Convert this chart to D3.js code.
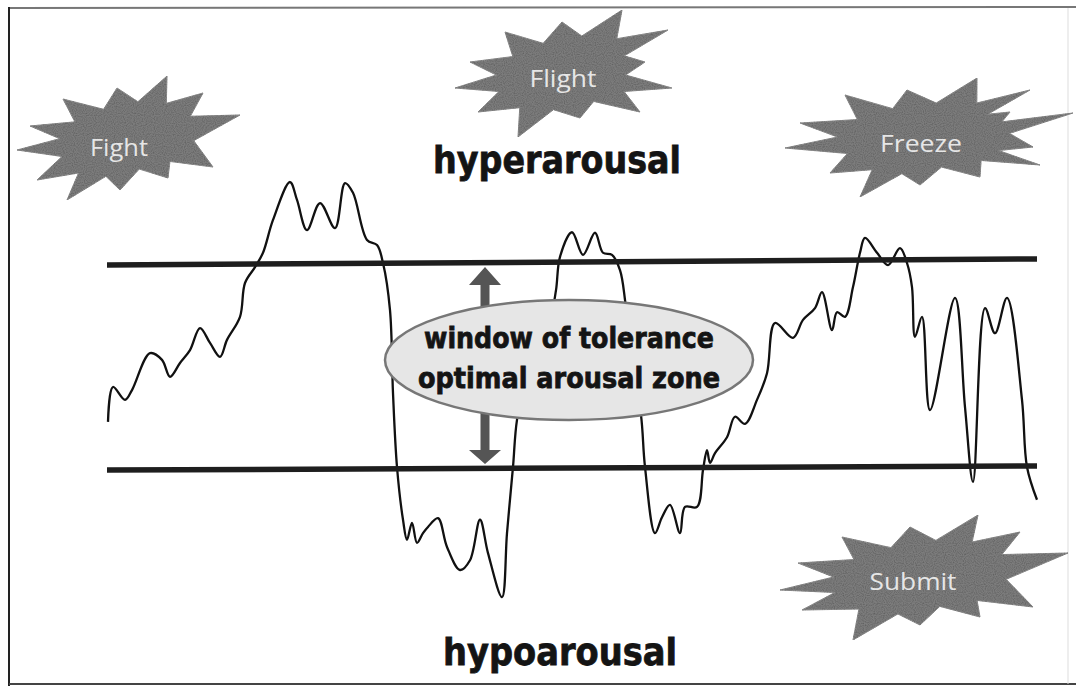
<!DOCTYPE html>
<html><head><meta charset="utf-8">
<script src="https://cdn.jsdelivr.net/npm/d3@7"></script>
<style>html,body{margin:0;padding:0;background:#fff;}svg{display:block;}</style>
</head><body>
<svg id="chart" width="1076" height="686"></svg>
<script>
// ---- data (time units, arousal level 0-100) ----
const times = [1,6,18,25,43,55,63,73,83,93,103,113,120,133,138,148,156,166,183,190,200,213,228,238,246,260,270,276,283,286,290,296,300,305,310,316,321,331,340,353,363,373,381,395,400,406,410,421,443,449,453,465,476,488,496,505,513,518,523,534,538,548,555,563,573,578,590,596,600,603,608,620,628,638,650,660,668,686,696,708,715,725,730,738,746,753,758,770,781,793,800,805,808,815,823,848,858,866,878,888,900,915,920,930];
const arousal = [39.0,45.8,43.3,45.2,52.4,51.1,47.8,50.5,53.0,57.3,54.4,51.7,55.0,59.5,66.1,69.2,72.0,78.4,85.8,82.3,76.4,81.7,76.8,85.6,83.7,74.5,73.5,70.0,60.8,44.6,30.2,19.9,16.0,19.3,15.4,17.3,18.5,20.2,14.6,10.1,12.0,19.9,13.4,4.8,17.3,30.2,39.4,49.1,58.9,64.7,71.2,76.0,71.6,75.9,72.0,71.6,68.6,62.8,53.0,40.3,30.2,17.3,20.4,22.8,17.3,22.4,22.4,29.6,33.5,31.0,32.9,36.0,40.0,38.6,43.3,48.5,58.3,55.4,58.9,61.2,64.3,56.9,60.4,59.5,65.3,72.0,74.9,72.0,69.6,72.9,70.0,65.3,55.6,59.5,41.3,63.2,41.9,27.3,61.2,56.3,63.2,43.3,30.2,23.8];
const upperBound = [69.6, 70.8];   // window of tolerance top (start, end)
const lowerBound = [29.6, 30.4];   // window of tolerance bottom (start, end)
const timeExtent = [0, 930];
const zoneLabels = ["window of tolerance", "optimal arousal zone"];
const stateLabels = ["Fight", "Flight", "Freeze", "Submit"];
const regionLabels = ["hyperarousal", "hypoarousal"];

const svg = d3.select("#chart");
const x = d3.scaleLinear().domain([0, 930]).range([107, 1037]);
const y = d3.scaleLinear().domain([0, 100]).range([621.75, 109.25]);

// frame
svg.append("line").attr("x1",9).attr("y1",8).attr("x2",1076).attr("y2",7).attr("stroke","#777").attr("stroke-width",2);
svg.append("line").attr("x1",9).attr("y1",7).attr("x2",9).attr("y2",686).attr("stroke","#222").attr("stroke-width",2);
svg.append("line").attr("x1",9).attr("y1",684).attr("x2",1076).attr("y2",684).attr("stroke","#444").attr("stroke-width",2);
svg.append("line").attr("x1",1068).attr("y1",8).attr("x2",1068).attr("y2",684).attr("stroke","#ddd").attr("stroke-width",1);

// speckle filter for grey shapes
const defs = svg.append("defs");
const f = defs.append("filter").attr("id","speckle").attr("x","0").attr("y","0").attr("width","100%").attr("height","100%");
f.append("feTurbulence").attr("type","fractalNoise").attr("baseFrequency",0.9).attr("numOctaves",1).attr("seed",3).attr("result","noise");
f.append("feColorMatrix").attr("in","noise").attr("type","matrix")
  .attr("values","0 0 0 0 0  0 0 0 0 0  0 0 0 0 0  0 0 0 0.9 -0.35").attr("result","dots");
f.append("feComposite").attr("in","dots").attr("in2","SourceGraphic").attr("operator","in").attr("result","dotsIn");
f.append("feMerge").selectAll("feMergeNode").data(["SourceGraphic","dotsIn"]).enter().append("feMergeNode").attr("in",d=>d);

// starbursts
const bursts = [
  {c:[130,140], tips:[[17,150],[30,126],[63,99],[117,88],[167,76],[203,93],[240,115],[213,167],[168,178],[120,190],[67,200],[37,180]], label:stateLabels[0], tx:119, ty:156, tl:58},
  {c:[562,75], tips:[[455,88],[470,62],[505,32],[562,22],[622,10],[668,30],[645,62],[672,88],[640,112],[580,118],[518,137],[478,112]], label:stateLabels[1], tx:563, ty:87, tl:67},
  {c:[925,140], tips:[[785,148],[800,123],[845,95],[907,90],[977,78],[1030,90],[1010,112],[1073,113],[1033,147],[1040,165],[980,177],[920,185],[860,197],[830,173]], label:stateLabels[2], tx:921, ty:152, tl:82},
  {c:[920,578], tips:[[780,590],[798,563],[842,537],[910,527],[978,515],[1020,532],[1068,553],[1033,607],[980,617],[920,625],[853,640],[802,610]], label:stateLabels[3], tx:913, ty:590, tl:87}
];
const polyLine = d3.line().curve(d3.curveLinearClosed);
bursts.forEach(b => {
  const pts = [];
  const n = b.tips.length;
  for (let i = 0; i < n; i++) {
    const a = b.tips[i], c2 = b.tips[(i+1)%n];
    pts.push(a);
    const mx = (a[0]+c2[0])/2, my = (a[1]+c2[1])/2;
    pts.push([b.c[0] + (mx-b.c[0])*0.66, b.c[1] + (my-b.c[1])*0.66]);
  }
  svg.append("path").attr("d", polyLine(pts)).attr("fill","#7c7c7c").attr("stroke","#8a8a8a").attr("stroke-width",1).attr("filter","url(#speckle)");
  svg.append("text").attr("x",b.tx).attr("y",b.ty).attr("text-anchor","middle")
    .attr("font-family","'Open Sans', 'Noto Sans', sans-serif").attr("font-size",23)
    .attr("fill","#e6e6e6").attr("textLength",b.tl).attr("lengthAdjust","spacingAndGlyphs").text(b.label);
});

// region labels
const boldText = (sel) => sel.attr("font-family","'DejaVu Sans', sans-serif").attr("font-weight","bold")
  .attr("fill","#141414").attr("stroke","#141414").attr("stroke-width",0.8).attr("lengthAdjust","spacingAndGlyphs").attr("text-anchor","middle");
svg.append("text").attr("x",557).attr("y",173).attr("font-size",38).attr("textLength",248).call(boldText).text(regionLabels[0]);
svg.append("text").attr("x",560).attr("y",665).attr("font-size",38).attr("textLength",234).call(boldText).text(regionLabels[1]);

// arousal curve
const data = times.map((t,i)=>({t, v: arousal[i]}));
svg.append("path").datum(data)
  .attr("d", d3.line().x(d=>x(d.t)).y(d=>y(d.v)).curve(d3.curveCatmullRom.alpha(0.5)))
  .attr("fill","none").attr("stroke","#111").attr("stroke-width",2.3).attr("stroke-linejoin","round");

// window of tolerance bounds
[upperBound, lowerBound].forEach(b => {
  svg.append("line").attr("x1",x(timeExtent[0])).attr("y1",y(b[0])).attr("x2",x(timeExtent[1])).attr("y2",y(b[1]))
    .attr("stroke","#1e1e1e").attr("stroke-width",5.5);
});

// arrows
const ax = 485;
const ellCx = 569, ellCy = 360, ellRx = 184, ellRy = 60;
const upTip = y(upperBound[0]) + 2, downTip = y(lowerBound[0]) - 6;
const arrowCol = "#555";
svg.append("path").attr("fill",arrowCol)
  .attr("d", `M${ax},${upTip} L${ax+16},${upTip+18} L${ax+4.5},${upTip+18} L${ax+4.5},${ellCy} L${ax-4.5},${ellCy} L${ax-4.5},${upTip+18} L${ax-16},${upTip+18} Z`);
svg.append("path").attr("fill",arrowCol)
  .attr("d", `M${ax},${downTip} L${ax+16},${downTip-14} L${ax+4.5},${downTip-14} L${ax+4.5},${ellCy} L${ax-4.5},${ellCy} L${ax-4.5},${downTip-14} L${ax-16},${downTip-14} Z`);

// ellipse
svg.append("ellipse").attr("cx",ellCx).attr("cy",ellCy).attr("rx",ellRx).attr("ry",ellRy)
  .attr("fill","#e6e6e6").attr("stroke","#777").attr("stroke-width",2.5);
svg.append("text").attr("x",ellCx).attr("y",348).attr("font-size",28).attr("textLength",290).call(boldText).text(zoneLabels[0]);
svg.append("text").attr("x",ellCx).attr("y",388).attr("font-size",28).attr("textLength",302).call(boldText).text(zoneLabels[1]);
</script>
</body></html>
